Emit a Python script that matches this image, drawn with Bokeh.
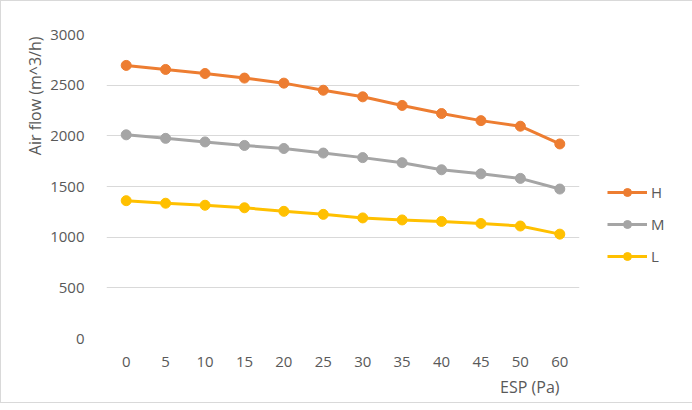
from bokeh.plotting import figure
from bokeh.models import Legend, LegendItem, Title, Range1d, FixedTicker
from bokeh.embed import file_html
from bokeh.resources import INLINE

esp = ["0", "5", "10", "15", "20", "25", "30", "35", "40", "45", "50", "60"]
h_flow = [2695, 2655, 2615, 2570, 2520, 2450, 2385, 2300, 2220, 2150, 2095, 1920]
m_flow = [2010, 1975, 1940, 1905, 1875, 1830, 1785, 1735, 1665, 1625, 1580, 1475]
l_flow = [1360, 1335, 1315, 1290, 1255, 1225, 1190, 1170, 1155, 1135, 1110, 1030]
y_ticks = [0, 500, 1000, 1500, 2000, 2500, 3000]
series_names = ["H", "M", "L"]
colors = ["#ED7D31", "#A5A5A5", "#FFC000"]

FONT = "Open Sans"
TXT = "#595959"

p = figure(x_range=esp, y_range=Range1d(0, 3000), frame_width=473, frame_height=304,
           output_backend="svg", toolbar_location=None,
           min_border_left=105, min_border_right=98, min_border_top=33, min_border_bottom=57,
           styles={"border": "1px solid #D9D9D9", "box-sizing": "border-box"})
p.outline_line_color = None
p.xgrid.grid_line_color = None
p.ygrid.grid_line_color = "#D9D9D9"
p.ygrid.grid_line_width = 1
p.yaxis.ticker = FixedTicker(ticks=y_ticks)

for ax in (p.xaxis, p.yaxis):
    ax.axis_line_color = None
    ax.major_tick_line_color = None
    ax.minor_tick_line_color = None
    ax.major_label_text_font = FONT
    ax.major_label_text_font_size = "15px"
    ax.major_label_text_color = TXT
p.xaxis.major_label_standoff = 12
p.yaxis.major_label_standoff = 16

items = []
for name, vals, c in zip(series_names, [h_flow, m_flow, l_flow], colors):
    lr = p.line(esp, vals, line_color=c, line_width=3)
    sr = p.scatter(esp, vals, size=10, fill_color=c, line_color=c)
    items.append(LegendItem(label=name, renderers=[lr, sr]))

legend = Legend(items=items, location=(28, 72), orientation="vertical",
                glyph_width=40, glyph_height=20, label_height=20, spacing=12,
                label_standoff=4, padding=0, margin=0, border_line_color=None,
                background_fill_alpha=0, label_text_font=FONT,
                label_text_font_size="15px", label_text_color=TXT)
p.add_layout(legend, "right")

ytitle = Title(text="Air flow (m^3/h)", align="right", offset=2, standoff=3,
               text_font=FONT, text_font_size="16px", text_font_style="normal",
               text_color=TXT)
p.add_layout(ytitle, "left")
xtitle = Title(text="ESP (Pa)", align="right", offset=20, standoff=9,
               text_font=FONT, text_font_size="16px", text_font_style="normal",
               text_color=TXT)
p.add_layout(xtitle, "below")

open("out.html", "w").write(file_html(p, INLINE))
